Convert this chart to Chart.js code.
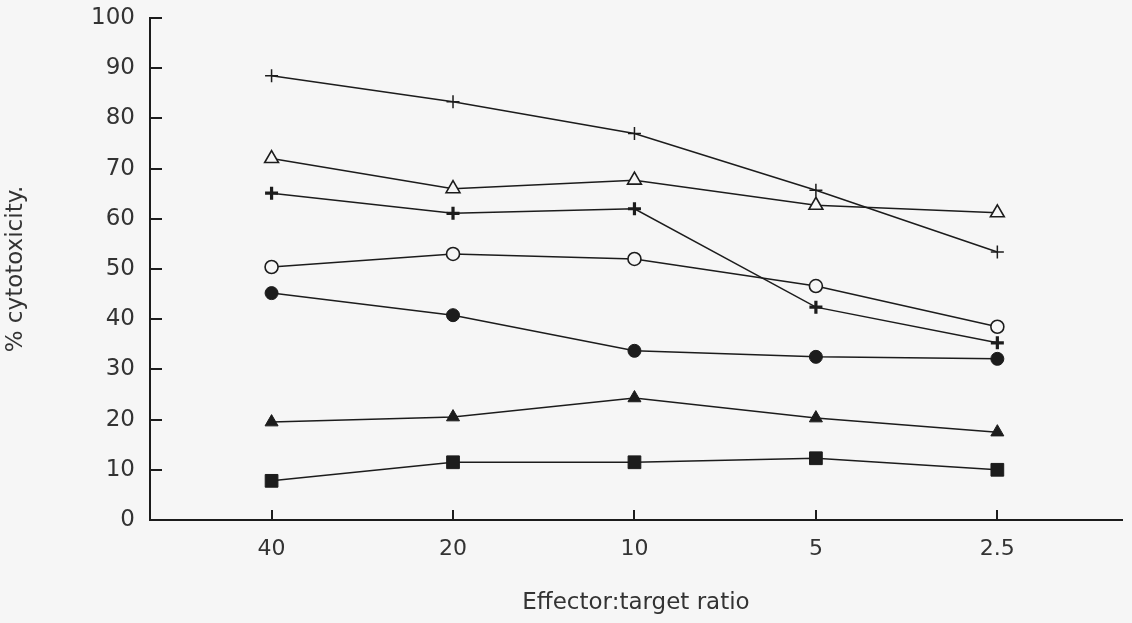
<!DOCTYPE html>
<html>
<head>
<meta charset="utf-8">
<script src="https://cdn.jsdelivr.net/npm/chart.js@4.4.0/dist/chart.umd.min.js"></script>
<style>
  html, body { margin: 0; padding: 0; background: #f6f6f6; }
  #wrap { position: relative; width: 1132px; height: 623px; }
</style>
</head>
<body>
<div id="wrap"><canvas id="c" width="1132" height="623"></canvas></div>
<script>
const categories = ['40', '20', '10', '5', '2.5'];
const yTicks = [0, 10, 20, 30, 40, 50, 60, 70, 80, 90, 100];
const thinPlus     = [88.5, 83.3, 77.0, 65.7, 53.4];
const openTriangle = [72.0, 66.0, 67.7, 62.7, 61.2];
const boldPlus     = [65.1, 61.1, 62.0, 42.4, 35.3];
const openCircle   = [50.4, 53.0, 52.0, 46.6, 38.5];
const filledCircle = [45.2, 40.8, 33.7, 32.5, 32.1];
const filledTriangle = [19.5, 20.5, 24.3, 20.3, 17.5];
const filledSquare = [7.8, 11.5, 11.5, 12.3, 10.0];

const INK = '#1c1c1c';
const toPts = arr => arr.map((v, i) => ({ x: i, y: v }));
function ds(data, style, radius, fill, bw) {
  return {
    data: toPts(data),
    borderColor: INK,
    borderWidth: 1.5,
    pointStyle: style,
    pointRadius: radius,
    pointHoverRadius: radius,
    pointBackgroundColor: fill,
    pointBorderColor: INK,
    pointBorderWidth: bw,
    tension: 0,
    fill: false
  };
}

const inwardTicks = {
  id: 'inwardTicks',
  afterDatasetsDraw(chart) {
    const { ctx, chartArea, scales: { x, y } } = chart;
    ctx.save();
    ctx.strokeStyle = INK;
    ctx.lineWidth = 2;
    ctx.beginPath();
    y.ticks.forEach(t => {
      if (t.value === 0) return;
      const py = Math.round(y.getPixelForValue(t.value));
      ctx.moveTo(chartArea.left, py);
      ctx.lineTo(chartArea.left + 12, py);
    });
    x.ticks.forEach(t => {
      const px = Math.round(x.getPixelForValue(t.value));
      ctx.moveTo(px, chartArea.bottom);
      ctx.lineTo(px, chartArea.bottom - 10);
    });
    ctx.stroke();
    ctx.restore();
  }
};

new Chart(document.getElementById('c'), {
  type: 'line',
  data: {
    datasets: [
      ds(thinPlus, 'cross', 6.5, INK, 1.5),
      ds(openTriangle, 'triangle', 8, '#f6f6f6', 1.6),
      ds(boldPlus, 'cross', 6.5, INK, 3.2),
      ds(openCircle, 'circle', 6.5, '#f6f6f6', 1.6),
      ds(filledCircle, 'circle', 6.5, INK, 1),
      ds(filledTriangle, 'triangle', 7.5, INK, 1),
      ds(filledSquare, 'rect', 9, INK, 1)
    ]
  },
  options: {
    responsive: false,
    animation: false,
    layout: { padding: { top: 18, right: 7, left: 0, bottom: 0 } },
    plugins: { legend: { display: false }, tooltip: { enabled: false } },
    scales: {
      x: {
        type: 'linear',
        min: -0.67,
        max: 4.687,
        afterFit(s) { s.height = 103; },
        afterBuildTicks(s) { s.ticks = categories.map((_, i) => ({ value: i })); },
        grid: { display: true, drawOnChartArea: false, drawTicks: false },
        border: { display: true, color: INK, width: 2 },
        ticks: {
          callback: v => categories[v],
          font: { family: 'DejaVu Sans', size: 22 },
          color: '#333',
          padding: 16,
          maxRotation: 0
        },
        title: {
          display: true,
          text: 'Effector:target ratio',
          font: { family: 'DejaVu Sans', size: 23 },
          color: '#333',
          padding: { top: 0, bottom: 6 }
        }
      },
      y: {
        min: 0,
        max: 100,
        afterFit(s) { s.width = 150; },
        afterBuildTicks(s) { s.ticks = yTicks.map(v => ({ value: v })); },
        grid: { display: true, drawOnChartArea: false, drawTicks: true, tickLength: 13, tickColor: 'rgba(0,0,0,0)' },
        border: { display: true, color: INK, width: 2 },
        ticks: {
          font: { family: 'DejaVu Sans', size: 23 },
          color: '#333',
          padding: 2
        },
        title: {
          display: true,
          text: '% cytotoxicity.',
          font: { family: 'DejaVu Sans', size: 23 },
          color: '#333',
          padding: { top: 2, bottom: 0 }
        }
      }
    }
  },
  plugins: [inwardTicks]
});
</script>
</body>
</html>
